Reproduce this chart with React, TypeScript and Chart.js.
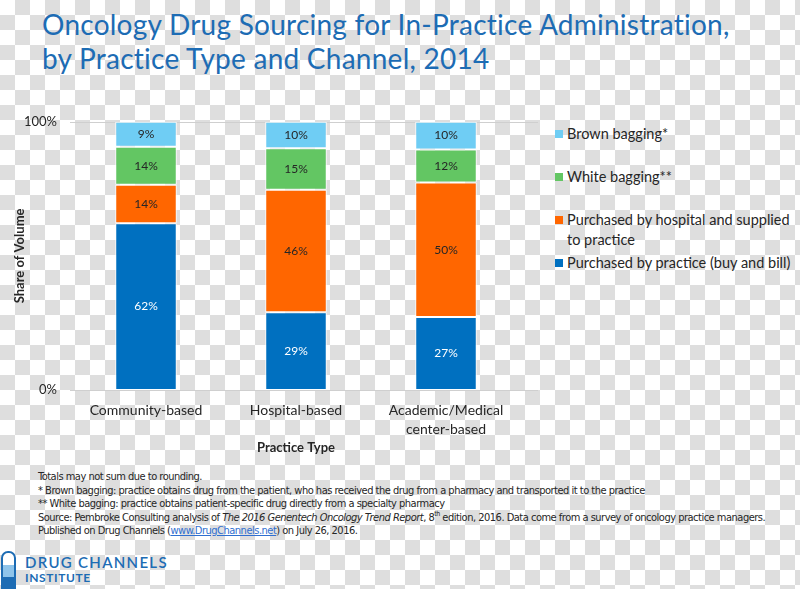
import React, { useEffect, useRef } from "react";
import { Chart, registerables } from "chart.js";

Chart.register(...registerables);

const categories: (string | string[])[] = ["Community-based", "Hospital-based", ["Academic/Medical", "center-based"]];
const practiceBuyBill = [62.2, 29.0, 27.2];
const hospitalSupplied = [14.3, 45.7, 50.2];
const whiteBagging = [14.2, 15.4, 12.3];
const brownBagging = [9.3, 9.9, 10.3];
const yTicks = [0, 100];

const FONT = "Lato, 'Open Sans', sans-serif";
const BLUE_TITLE = "#1d6cb4";

const seriesDefs = [
  { label: "Purchased by practice (buy and bill)", data: practiceBuyBill, color: "#0070c0", text: "#ffffff" },
  { label: "Purchased by hospital and supplied to practice", data: hospitalSupplied, color: "#ff6600", text: "#262626" },
  { label: "White bagging**", data: whiteBagging, color: "#63c663", text: "#262626" },
  { label: "Brown bagging*", data: brownBagging, color: "#6fcdf4", text: "#262626" },
];

const gridPlugin = {
  id: "extGrid",
  beforeDatasetsDraw(chart: any) {
    const { ctx, chartArea, scales } = chart;
    ctx.save();
    ctx.strokeStyle = "#cfcfcf";
    ctx.lineWidth = 1;
    yTicks.forEach((v) => {
      const y = Math.round(scales.y.getPixelForValue(v)) + 0.5;
      ctx.beginPath();
      ctx.moveTo(chartArea.left - 1, y);
      ctx.lineTo(chartArea.right + 17, y);
      ctx.stroke();
    });
    ctx.restore();
  },
};

const labelPlugin = {
  id: "segLabels",
  afterDatasetsDraw(chart: any) {
    const { ctx } = chart;
    ctx.save();
    ctx.font = `12px ${FONT}`;
    ctx.textAlign = "center";
    ctx.textBaseline = "middle";
    chart.data.datasets.forEach((ds: any, i: number) => {
      const meta = chart.getDatasetMeta(i);
      meta.data.forEach((bar: any, j: number) => {
        const v = ds.data[j];
        const yMid = (bar.y + bar.base) / 2;
        ctx.fillStyle = seriesDefs[i].text;
        ctx.fillText(Math.round(v) + "%", bar.x, yMid);
      });
    });
    ctx.restore();
  },
};

function StackChart() {
  const ref = useRef<HTMLCanvasElement | null>(null);
  useEffect(() => {
    if (!ref.current) return;
    const chart = new Chart(ref.current, {
      type: "bar",
      data: {
        labels: categories as any,
        datasets: seriesDefs.map((s) => ({
          label: s.label,
          data: s.data,
          backgroundColor: s.color,
          borderColor: "#ffffff",
          borderWidth: 1,
          borderSkipped: false,
          categoryPercentage: 1,
          barPercentage: 0.41,
        })),
      },
      options: {
        responsive: false,
        animation: false,
        layout: { padding: { top: 21, right: 19, left: 0, bottom: 0 } },
        plugins: { legend: { display: false }, tooltip: { enabled: false } },
        scales: {
          x: {
            stacked: true,
            grid: { display: false, drawTicks: false },
            border: { display: false },
            ticks: { color: "#262626", font: { size: 14, family: FONT, lineHeight: 1.36 }, padding: 11, maxRotation: 0 },
            title: {
              display: true,
              text: "Practice Type",
              color: "#262626",
              font: { size: 13, weight: "bold", family: FONT },
              padding: { top: 0, bottom: 4 },
            },
            afterFit: (s: any) => {
              s.height = 70;
            },
          },
          y: {
            stacked: true,
            min: 0,
            max: 100,
            afterBuildTicks: (s: any) => {
              s.ticks = yTicks.map((v) => ({ value: v }));
            },
            grid: { display: false, drawTicks: false },
            border: { display: false },
            ticks: {
              color: "#262626",
              font: { size: 13, family: FONT },
              padding: 14,
              callback: (v: any) => v + "%",
            },
            title: {
              display: true,
              text: "Share of Volume",
              color: "#262626",
              font: { size: 13, weight: "bold", family: FONT },
              padding: { top: 12, bottom: 0 },
            },
            afterFit: (s: any) => {
              s.width = 71;
            },
          },
        },
      },
      plugins: [gridPlugin, labelPlugin],
    });
    return () => chart.destroy();
  }, []);
  return <canvas ref={ref} width={540} height={360} style={{ display: "block" }} />;
}

const legendItems = [
  { color: "#6fcdf4", lines: ["Brown bagging*"], top: 124 },
  { color: "#63c663", lines: ["White bagging**"], top: 167 },
  { color: "#ff6600", lines: ["Purchased by hospital and supplied", "to practice"], top: 210 },
  { color: "#0070c0", lines: ["Purchased by practice (buy and bill)"], top: 253 },
];

export default function App() {
  const noteStyle: React.CSSProperties = {
    position: "absolute",
    left: 38,
    whiteSpace: "nowrap",
    fontFamily: "'Liberation Sans Narrow', 'DejaVu Sans Condensed', sans-serif",
    fontSize: 11,
    letterSpacing: -0.5,
    color: "#262626",
    lineHeight: "13px",
  };
  return (
    <div
      style={{
        position: "absolute",
        left: 0,
        top: 0,
        width: 800,
        height: 589,
        overflow: "hidden",
        backgroundColor: "#ffffff",
        backgroundImage:
          "conic-gradient(#dedede 25%, transparent 0 50%, #dedede 0 75%, transparent 0)",
        backgroundSize: "30px 30px",
        fontFamily: FONT,
      }}
    >
      <div
        style={{
          position: "absolute",
          left: 42,
          top: 7,
          color: BLUE_TITLE,
          fontSize: 28,
          letterSpacing: 0.25,
          lineHeight: "34px",
          whiteSpace: "nowrap",
          fontFamily: FONT,
        }}
      >
        <div>Oncology Drug Sourcing for In-Practice Administration,</div>
        <div>by Practice Type and Channel, 2014</div>
      </div>

      <div style={{ position: "absolute", left: 0, top: 100, width: 540, height: 360 }}>
        <StackChart />
      </div>

      {legendItems.map((it, i) => (
        <div key={i} style={{ position: "absolute", left: 555, top: it.top, fontSize: 14.5, color: "#262626", lineHeight: "20px" }}>
          <div style={{ position: "absolute", left: 0, top: 6, width: 8, height: 8, background: it.color }} />
          {it.lines.map((l, k) => (
            <div key={k} style={{ marginLeft: 12, whiteSpace: "nowrap" }}>{l}</div>
          ))}
        </div>
      ))}

      <div style={{ ...noteStyle, top: 470 }}>Totals may not sum due to rounding.</div>
      <div style={{ ...noteStyle, top: 484 }}>
        * Brown bagging: practice obtains drug from the patient, who has received the drug from a pharmacy and transported it to the practice
      </div>
      <div style={{ ...noteStyle, top: 497 }}>** White bagging: practice obtains patient-specific drug directly from a specialty pharmacy</div>
      <div style={{ ...noteStyle, top: 511 }}>
        Source: Pembroke Consulting analysis of <i>The 2016 Genentech Oncology Trend Report</i>, 8
        <sup style={{ fontSize: 7, lineHeight: 0 }}>th</sup> edition, 2016. Data come from a survey of oncology practice managers.
      </div>
      <div style={{ ...noteStyle, top: 524 }}>
        Published on Drug Channels (<span style={{ color: "#2f6fd0", textDecoration: "underline" }}>www.DrugChannels.net</span>) on July 26, 2016.
      </div>

      <div
        style={{
          position: "absolute",
          left: 1,
          top: 551,
          width: 11,
          height: 40,
          border: "2px solid #1d6cb4",
          borderRadius: "7px 7px 0 0",
          background: "linear-gradient(#ffffff 0 30%, #8fc4ea 30% 60%, #1d6cb4 60%)",
        }}
      />
      <div
        style={{
          position: "absolute",
          left: 25,
          top: 553,
          color: BLUE_TITLE,
          fontSize: 15,
          letterSpacing: 1.3,
          fontWeight: 600,
          whiteSpace: "nowrap",
          lineHeight: "18px",
        }}
      >
        DRUG CHANNELS
      </div>
      <div
        style={{
          position: "absolute",
          left: 25,
          top: 571,
          color: BLUE_TITLE,
          fontSize: 12,
          letterSpacing: 0.6,
          fontWeight: 700,
          whiteSpace: "nowrap",
          lineHeight: "14px",
        }}
      >
        INSTITUTE
      </div>
    </div>
  );
}
